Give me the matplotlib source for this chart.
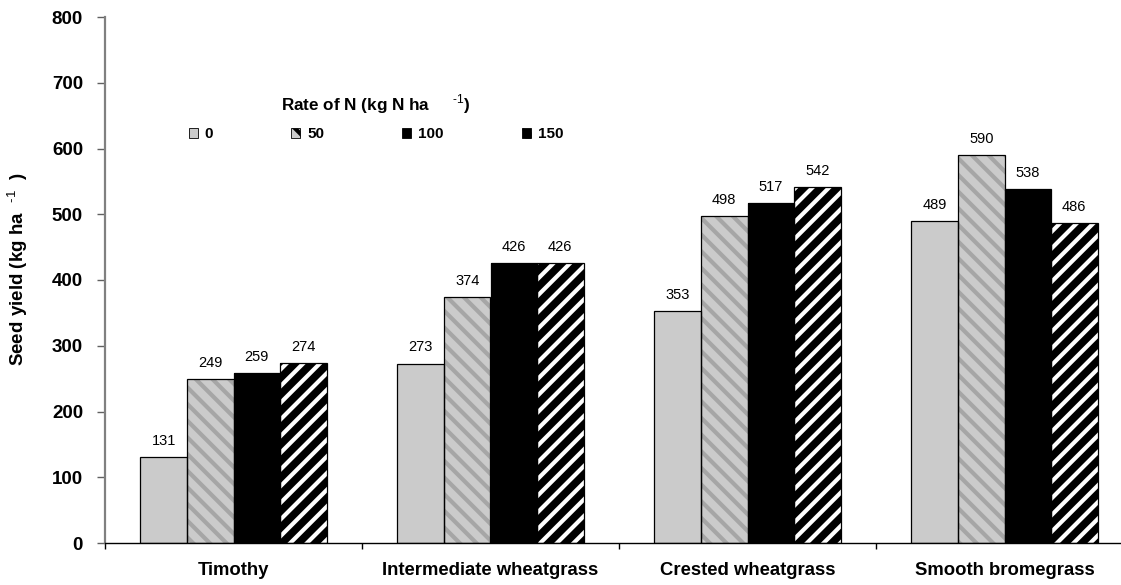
import matplotlib
matplotlib.use("Agg")
import matplotlib.pyplot as plt
import numpy as np
from matplotlib.patches import Patch

plt.rcParams['font.family'] = ['Liberation Sans', 'DejaVu Sans']
plt.rcParams['hatch.linewidth'] = 3.0
plt.rcParams['mathtext.fontset'] = 'custom'
plt.rcParams['mathtext.rm'] = 'Liberation Sans'
plt.rcParams['mathtext.bf'] = 'Liberation Sans:bold'

categories = ["Timothy", "Intermediate wheatgrass", "Crested wheatgrass", "Smooth bromegrass"]
rates = ["0", "50", "100", "150"]
yield_0 = [131, 273, 353, 489]
yield_50 = [249, 374, 498, 590]
yield_100 = [259, 426, 517, 538]
yield_150 = [274, 426, 542, 486]
series = [yield_0, yield_50, yield_100, yield_150]

# style per series: (face, hatch color, hatch)
styles = [
    ("#CBCBCB", "#CBCBCB", None),
    ("#CBCBCB", "#A6A6A6", "\\\\"),
    ("#000000", "#000000", None),
    ("#000000", "#FFFFFF", "//"),
]

fig = plt.figure(figsize=(11.21, 5.85), dpi=100)
ax = fig.add_axes([105/1121, 42/585, 1016/1121, 526/585])

x = np.arange(len(categories))
w = 0.181
for i, (vals, (fc, hc, h)) in enumerate(zip(series, styles)):
    pos = x + (i - 1.5) * w
    ax.bar(pos, vals, w, color=fc, edgecolor=hc, hatch=h, linewidth=0, zorder=2)
    outl = ax.bar(pos, vals, w, fill=False, edgecolor="black", linewidth=0.9, zorder=3)
    ax.bar_label(outl, labels=[str(v) for v in vals], padding=6.5, fontsize=10.5)

ax.set_xlim(-0.5, -0.5 + 1016/257)
ax.set_ylim(0, 800)
ax.set_yticks(np.arange(0, 801, 100))
ax.tick_params(axis='y', labelsize=13.5, width=1, length=5.8, pad=10, color="#606060")
for t in ax.get_yticklabels():
    t.set_fontweight('bold')

ax.set_xticks(np.arange(-0.5, 3.0, 1.0))
ax.set_xticklabels([])
ax.tick_params(axis='x', which='major', length=4, width=1)
ax.set_xticks(x, minor=True)
ax.set_xticklabels(categories, minor=True, fontsize=13.3, fontweight='bold')
ax.tick_params(axis='x', which='minor', length=0, pad=14)

ax.spines['top'].set_visible(False)
ax.spines['right'].set_visible(False)
ax.spines['left'].set_color("#808080")
ax.spines['left'].set_linewidth(1.6)
ax.spines['bottom'].set_linewidth(1.0)

ax.set_ylabel(r"Seed yield (kg ha  $^{\mathbf{\text{-1}}}$  )", fontsize=13.5, fontweight='bold')
ax.yaxis.set_label_coords(-0.074, 0.52)

handles = []
for fc, hc, h in styles:
    handles.append(Patch(facecolor=fc, edgecolor="black", hatch=h, linewidth=0.6))
leg = fig.legend(handles, rates, ncol=4, loc='center', bbox_to_anchor=(376/1121, 1 - 117/585),
                 frameon=False, handlelength=0.6, handleheight=0.6, handletextpad=0.45,
                 columnspacing=5.1, prop={'weight': 'bold', 'size': 11},
                 title=r"Rate of N (kg N ha     $^{\mathbf{\text{-1}}}$)",
                 title_fontproperties={'weight': 'bold', 'size': 12.3})
leg._legend_box.sep = 8

fig.savefig("out.png", dpi=100)
